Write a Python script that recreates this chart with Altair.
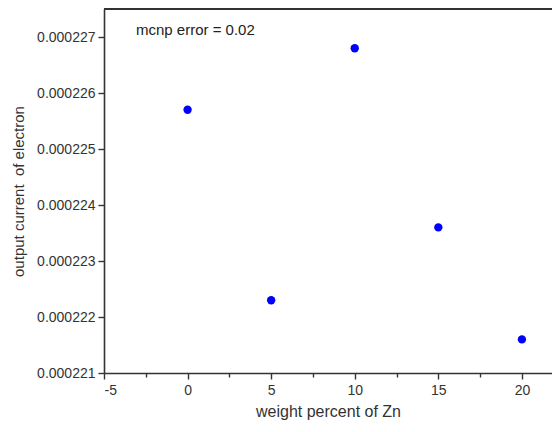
import altair as alt
import pandas as pd

weight_pct = [0, 5, 10, 15, 20]
current = [0.0002257, 0.0002223, 0.0002268, 0.0002236, 0.0002216]

x_ticks = [-5, -2.5, 0, 2.5, 5, 7.5, 10, 12.5, 15, 17.5, 20]
y_ticks = [0.000221, 0.0002215, 0.000222, 0.0002225, 0.000223, 0.0002235,
           0.000224, 0.0002245, 0.000225, 0.0002255, 0.000226, 0.0002265, 0.000227]

x_domain = [-5, 21.8]
y_domain = [0.000221, 0.0002275]

df = pd.DataFrame({"x": weight_pct, "y": current})
FONT = "Liberation Sans"
AX = "#333333"

points = alt.Chart(df).mark_circle(size=70, color="#0000ff", opacity=1).encode(
    x=alt.X("x:Q", scale=alt.Scale(domain=x_domain, nice=False, zero=False),
            axis=alt.Axis(values=x_ticks, title="weight percent of Zn",
                          labelExpr="datum.value % 5 == 0 ? toString(datum.value) : ''",
                          tickSize={"condition": {"test": "datum.value % 5 == 0", "value": 6}, "value": 4},
                          grid=False, domainColor=AX, domainWidth=1.6, tickColor=AX, tickWidth=1.4,
                          labelFont=FONT, labelFontSize=14, labelColor="#333", labelPadding=4,
                          titleFont=FONT, titleFontSize=16, titleFontWeight="normal",
                          titleColor="#333", titlePadding=6)),
    y=alt.Y("y:Q", scale=alt.Scale(domain=y_domain, nice=False, zero=False),
            axis=alt.Axis(values=y_ticks, title="output current\u00a0 of electron",
                          labelExpr="round(datum.value*1e7) % 10 == 0 ? format(datum.value, '.6f') : ''",
                          tickSize={"condition": {"test": "round(datum.value*1e7) % 10 == 0", "value": 6}, "value": 4},
                          grid=False, domainColor=AX, domainWidth=1.6, tickColor=AX, tickWidth=1.4,
                          labelFont=FONT, labelFontSize=14, labelColor="#333", labelPadding=3,
                          titleFont=FONT, titleFontSize=15, titleFontWeight="normal",
                          titleColor="#333", titlePadding=10)),
)

top_line = alt.Chart(pd.DataFrame({"y": [y_domain[1]]})).mark_rule(
    color=AX, strokeWidth=1.8).encode(y=alt.Y("y:Q"))

note = alt.Chart(pd.DataFrame({"t": ["mcnp error = 0.02"]})).mark_text(
    font=FONT, fontSize=15, color="#222", align="left", baseline="middle").encode(
    text="t:N", x=alt.value(32), y=alt.value(21))

chart = alt.layer(points, top_line, note).properties(
    width=448, height=364,
    autosize=alt.AutoSizeParams(type="none"),
    padding={"left": 96, "top": 1, "right": 0, "bottom": 51},
).configure_view(stroke=None).configure(background="white")

chart.save("out.html", embed_options={"renderer": "svg", "actions": False})
